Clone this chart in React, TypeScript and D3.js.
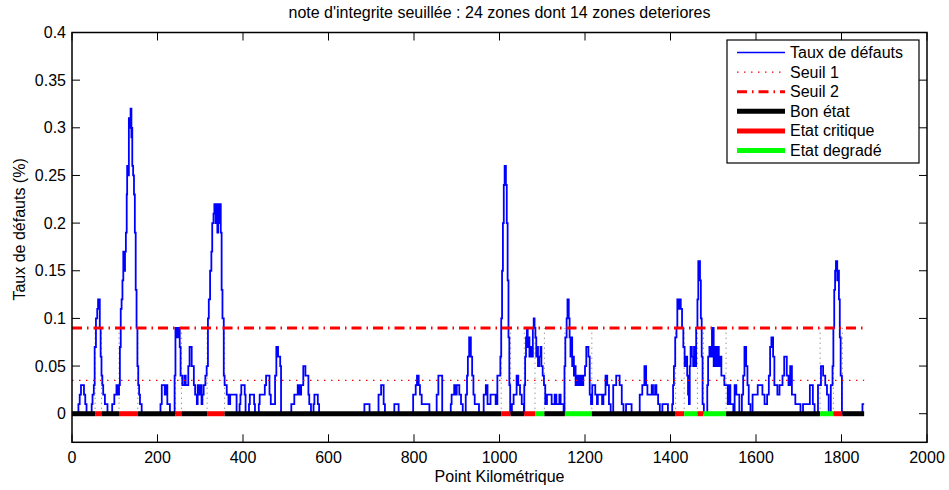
import React from "react";
import * as d3 from "d3";

// ---- data ----
const title = "note d'integrite seuillée : 24 zones dont 14 zones deteriores";
const xLabel = "Point Kilométrique";
const yLabel = "Taux de défauts (%)";
const xTicks = [0, 200, 400, 600, 800, 1000, 1200, 1400, 1600, 1800, 2000];
const yTicks = [0, 0.05, 0.1, 0.15, 0.2, 0.25, 0.3, 0.35, 0.4];

const seuil1 = 0.035;
const seuil2 = 0.09;
const kmEnd = 1853;

// step function: value holds from stepKm[i] until stepKm[i+1]
const stepKm = [
  0, 15, 18, 21, 28, 31, 34, 46, 48, 51, 53, 56, 59, 61, 65, 67, 69, 71, 73, 77, 83,
  94, 99, 104, 108, 110, 112, 114, 116, 118, 120, 122, 124, 126, 128, 129, 131, 133, 136, 137, 139, 140, 141, 143, 145, 147, 149, 151, 153, 155, 157, 159, 163,
  207, 210, 217, 220, 223, 229,
  240, 242, 246, 248, 252, 254, 258, 263, 266, 272, 275, 280, 285, 288, 292, 294, 297, 300, 303, 305, 308, 312,
  315, 318, 320, 323, 326, 328, 331, 333, 336, 338, 340, 342, 344, 346, 348, 350, 352, 355, 357, 362, 366, 370, 385,
  392, 394, 396, 404, 406, 414, 416, 426, 428, 437, 439, 451, 454, 462, 465, 475, 478, 482, 487, 489,
  513, 520, 528, 532, 536, 541, 546, 553, 555, 559, 565, 567, 575, 578,
  684, 696, 717, 723, 729, 732, 754, 764, 798, 804, 807, 811, 814, 818, 836,
  853, 857, 866, 886, 888, 894, 898, 900, 906, 910, 914,
  921, 924, 926, 929, 933, 936, 939, 942, 952,
  963, 968, 972, 979, 991, 995, 1002, 1004, 1006, 1008, 1010, 1012, 1015, 1017, 1019, 1021, 1023, 1025,
  1029, 1033, 1040, 1044, 1048, 1052, 1057,
  1058, 1060, 1062, 1064, 1066, 1068, 1070, 1073, 1076, 1078, 1080, 1082, 1084, 1086, 1088, 1090, 1093, 1096, 1098, 1101, 1104, 1107, 1111, 1122, 1129, 1133, 1140, 1143, 1150,
  1152, 1154, 1157, 1159, 1162, 1164, 1166, 1168, 1170, 1172, 1174, 1176, 1178, 1181, 1183, 1186, 1188, 1191, 1193, 1196, 1200, 1203, 1208, 1211, 1214, 1217, 1224, 1228, 1230, 1240, 1243, 1248, 1252, 1256, 1260,
  1266, 1273, 1281, 1286, 1290, 1296, 1309, 1328, 1334, 1339, 1343, 1346, 1356, 1359, 1364, 1367, 1371, 1375, 1381, 1394,
  1404, 1406, 1408, 1411, 1414, 1416, 1419, 1422, 1424, 1427, 1430, 1433, 1436, 1439, 1441, 1443, 1445, 1447, 1450, 1453, 1455, 1458, 1460, 1463, 1465, 1469, 1471, 1473, 1475, 1478,
  1486, 1488, 1491, 1494, 1497, 1501, 1504, 1507, 1510, 1513, 1516, 1519, 1523, 1526, 1534, 1537, 1540, 1547, 1550, 1554, 1561,
  1567, 1570, 1573, 1577, 1580, 1583, 1587, 1592, 1604, 1615, 1620, 1626, 1630, 1633, 1636, 1640, 1643, 1650, 1655, 1662, 1666, 1672, 1676, 1680, 1684, 1692, 1704,
  1710, 1726, 1733, 1737, 1745, 1752, 1757, 1762, 1766, 1770, 1775, 1779, 1781, 1783, 1785, 1787, 1790, 1792, 1794, 1796, 1798, 1801, 1849,
];
const stepRate = [
  0, 0.01, 0.02, 0.03, 0.02, 0.01, 0, 0.01, 0.02, 0.03, 0.07, 0.1, 0.11, 0.12, 0.09, 0.06, 0.04, 0.03, 0.02, 0.01, 0,
  0.01, 0.02, 0.03, 0.02, 0.03, 0.07, 0.11, 0.12, 0.14, 0.17, 0.15, 0.17, 0.19, 0.23, 0.26, 0.25, 0.31, 0.3, 0.32, 0.29, 0.3, 0.26, 0.25, 0.23, 0.19, 0.13, 0.09, 0.05, 0.03, 0.02, 0.01, 0,
  0.01, 0.03, 0.02, 0.03, 0.01, 0,
  0.04, 0.09, 0.08, 0.09, 0.07, 0.04, 0.03, 0.04, 0.03, 0.05, 0.07, 0.05, 0.03, 0.02, 0.01, 0.03, 0.02, 0.03, 0.01, 0.02, 0.03, 0.04,
  0.05, 0.1, 0.12, 0.15, 0.17, 0.2, 0.21, 0.22, 0.2, 0.22, 0.19, 0.22, 0.2, 0.22, 0.19, 0.13, 0.1, 0.04, 0.03, 0.02, 0.01, 0.02, 0,
  0.01, 0.02, 0.03, 0.02, 0, 0.01, 0.02, 0.01, 0, 0.01, 0.02, 0.03, 0.04, 0.02, 0.01, 0.04, 0.07, 0.06, 0.05, 0,
  0.01, 0.02, 0.03, 0.02, 0.03, 0.05, 0.04, 0.02, 0.01, 0, 0.01, 0.02, 0.01, 0,
  0.01, 0, 0.02, 0.03, 0.01, 0, 0.01, 0, 0.02, 0.03, 0.04, 0.03, 0.02, 0.01, 0,
  0.02, 0.04, 0, 0.01, 0.02, 0.03, 0.02, 0.03, 0.02, 0.01, 0,
  0.02, 0.04, 0.06, 0.08, 0.06, 0.04, 0.02, 0.01, 0,
  0.02, 0.03, 0.01, 0.02, 0.01, 0.04, 0.06, 0.1, 0.15, 0.2, 0.24, 0.26, 0.24, 0.2, 0.14, 0.08, 0.03, 0,
  0.01, 0.02, 0.04, 0.03, 0.02, 0.01, 0,
  0.03, 0.06, 0.08, 0.09, 0.07, 0.08, 0.06, 0.07, 0.06, 0.09, 0.1, 0.09, 0.08, 0.06, 0.07, 0.05, 0.06, 0.07, 0.05, 0.04, 0.03, 0.01, 0.02, 0.01, 0.02, 0.01, 0.02, 0.01, 0,
  0.05, 0.08, 0.1, 0.12, 0.1, 0.08, 0.06, 0.08, 0.05, 0.06, 0.04, 0.05, 0.03, 0.04, 0.03, 0.04, 0.03, 0.04, 0.03, 0.04, 0.05, 0.07, 0.06, 0.02, 0.01, 0.03, 0.02, 0.01, 0.02, 0.01, 0.02, 0.04, 0.03, 0.01, 0,
  0.03, 0.04, 0.03, 0.01, 0, 0.01, 0, 0.02, 0.03, 0.05, 0.03, 0.02, 0.03, 0.02, 0.03, 0.02, 0.01, 0, 0.01, 0,
  0.01, 0.03, 0.05, 0.08, 0.09, 0.12, 0.11, 0.12, 0.11, 0.09, 0.07, 0.05, 0.06, 0.04, 0.02, 0.01, 0.05, 0.07, 0.06, 0.05, 0.07, 0.05, 0.09, 0.12, 0.16, 0.14, 0.1, 0.06, 0.01, 0,
  0.03, 0.06, 0.07, 0.06, 0.09, 0.05, 0.07, 0.05, 0.07, 0.05, 0.06, 0.04, 0.04, 0.03, 0.01, 0.03, 0.01, 0, 0.03, 0.02, 0,
  0.02, 0.04, 0.07, 0.05, 0.03, 0.01, 0, 0.02, 0.03, 0.02, 0.01, 0.02, 0.04, 0.07, 0.08, 0.06, 0.03, 0.02, 0.03, 0.04, 0.06, 0.04, 0.03, 0.05, 0.02, 0.01, 0,
  0.01, 0.03, 0.01, 0, 0.03, 0.05, 0.04, 0.03, 0.02, 0, 0.03, 0.05, 0.09, 0.13, 0.15, 0.16, 0.14, 0.15, 0.12, 0.08, 0.04, 0, 0.01,
];

// zones along the track: 0 = bon état, 1 = état critique, 2 = état dégradé
const zoneStart = [0, 54, 69, 110, 154, 242, 256, 316, 357, 1004, 1026, 1058, 1083, 1105, 1153, 1216, 1412, 1432, 1463, 1477, 1530, 1750, 1781, 1802];
const zoneEnd = [54, 69, 110, 154, 242, 256, 316, 357, 1004, 1026, 1058, 1083, 1105, 1153, 1216, 1412, 1432, 1463, 1477, 1530, 1750, 1781, 1802, 1853];
const zoneState = [0, 1, 0, 1, 0, 1, 0, 1, 0, 1, 0, 1, 2, 0, 2, 0, 1, 2, 1, 2, 0, 2, 1, 0];

const legendLabels = ["Taux de défauts", "Seuil 1", "Seuil 2", "Bon état", "Etat critique", "Etat degradé"];

// ---- styles ----
const W = 949;
const H = 490;
const L = 72, R = 927, T = 32.5, B = 442.3;
const FONT = "'Liberation Sans', Arial, Helvetica, sans-serif";
const FS = 16;
const zoneColor = ["#000000", "#ff0000", "#00ff00"];
const BAR_W = 5;
const dotDash = "1.5,5.5";
const dashDot = "10,5,1.5,5";

export default function App() {
  const x = d3.scaleLinear().domain([0, 2000]).range([L, R]);
  const y = d3.scaleLinear().domain([-0.03, 0.4]).range([B, T]);

  const pts: [number, number][] = stepKm.map((k, i) => [k, stepRate[i]]);
  pts.push([kmEnd, stepRate[stepRate.length - 1]]);
  const line = d3
    .line<[number, number]>()
    .x((d) => x(d[0]))
    .y((d) => y(d[1]))
    .curve(d3.curveStepAfter);

  const boundaries = Array.from(new Set(zoneStart.slice(1)));

  const tickLen = 8;
  const legX = 727, legY = 40, legW = 192, legH = 123;
  const rowY = (i: number) => legY + 12.5 + i * 19.6;
  const sx0 = 737, sx1 = 785;

  const legendSample = (i: number) => {
    const yy = rowY(i);
    switch (i) {
      case 0:
        return <line x1={sx0} x2={sx1} y1={yy} y2={yy} stroke="#0000ff" strokeWidth={1.5} />;
      case 1:
        return <line x1={sx0} x2={sx1} y1={yy} y2={yy} stroke="#ff0000" strokeWidth={1.2} strokeDasharray={dotDash} />;
      case 2:
        return <line x1={sx0} x2={sx1} y1={yy} y2={yy} stroke="#ff0000" strokeWidth={3} strokeDasharray={dashDot} />;
      default:
        return <line x1={sx0} x2={sx1} y1={yy} y2={yy} stroke={zoneColor[i - 3]} strokeWidth={BAR_W} />;
    }
  };

  return (
    <svg width={W} height={H} style={{ position: "absolute", left: 0, top: 0, background: "#fff" }} fontFamily={FONT}>
      <rect x={0} y={0} width={W} height={H} fill="#fff" />
      {/* zone boundary markers */}
      {boundaries.map((k, i) => (
        <line key={"b" + i} x1={x(k)} x2={x(k)} y1={y(0)} y2={y(seuil2)} stroke="#444" strokeWidth={0.8} strokeDasharray="1,4" />
      ))}
      {/* series */}
      <path d={line(pts) || ""} fill="none" stroke="#0000ff" strokeWidth={1.8} strokeLinejoin="miter" />
      {/* thresholds */}
      <line x1={x(0)} x2={x(kmEnd)} y1={y(seuil1)} y2={y(seuil1)} stroke="#ff0000" strokeWidth={1.2} strokeDasharray={dotDash} />
      <line x1={x(0)} x2={x(kmEnd)} y1={y(seuil2)} y2={y(seuil2)} stroke="#ff0000" strokeWidth={3} strokeDasharray={dashDot} />
      {/* zone bars */}
      {zoneStart.map((s, i) => (
        <line key={"z" + i} x1={x(s)} x2={x(zoneEnd[i])} y1={y(0)} y2={y(0)} stroke={zoneColor[zoneState[i]]} strokeWidth={BAR_W} />
      ))}
      {/* axes box */}
      <rect x={L} y={T} width={R - L} height={B - T} fill="none" stroke="#000" strokeWidth={1.5} />
      {xTicks.map((t) => (
        <g key={"xt" + t}>
          <line x1={x(t)} x2={x(t)} y1={B} y2={B - tickLen} stroke="#000" strokeWidth={1} />
          <line x1={x(t)} x2={x(t)} y1={T} y2={T + tickLen} stroke="#000" strokeWidth={1} />
          <text x={x(t)} y={B + 21} textAnchor="middle" fontSize={FS} fill="#000">{t}</text>
        </g>
      ))}
      {yTicks.map((t) => (
        <g key={"yt" + t}>
          <line x1={L} x2={L + tickLen} y1={y(t)} y2={y(t)} stroke="#000" strokeWidth={1} />
          <line x1={R} x2={R - tickLen} y1={y(t)} y2={y(t)} stroke="#000" strokeWidth={1} />
          <text x={L - 6} y={y(t) + 5.5} textAnchor="end" fontSize={FS} fill="#000">{String(+t.toFixed(2))}</text>
        </g>
      ))}
      {/* labels */}
      <text x={(L + R) / 2} y={18} textAnchor="middle" fontSize={FS} fill="#000">{title}</text>
      <text x={(L + R) / 2} y={482} textAnchor="middle" fontSize={FS} fill="#000">{xLabel}</text>
      <text transform={`translate(25,${(T + B) / 2 - 8}) rotate(-90)`} textAnchor="middle" fontSize={FS} fill="#000">{yLabel}</text>
      {/* legend */}
      <rect x={legX} y={legY} width={legW} height={legH} fill="#fff" stroke="#000" strokeWidth={1.2} />
      {legendLabels.map((lab, i) => (
        <g key={"lg" + i}>
          {legendSample(i)}
          <text x={790} y={rowY(i) + 5.5} fontSize={FS} fill="#000">{lab}</text>
        </g>
      ))}
    </svg>
  );
}
